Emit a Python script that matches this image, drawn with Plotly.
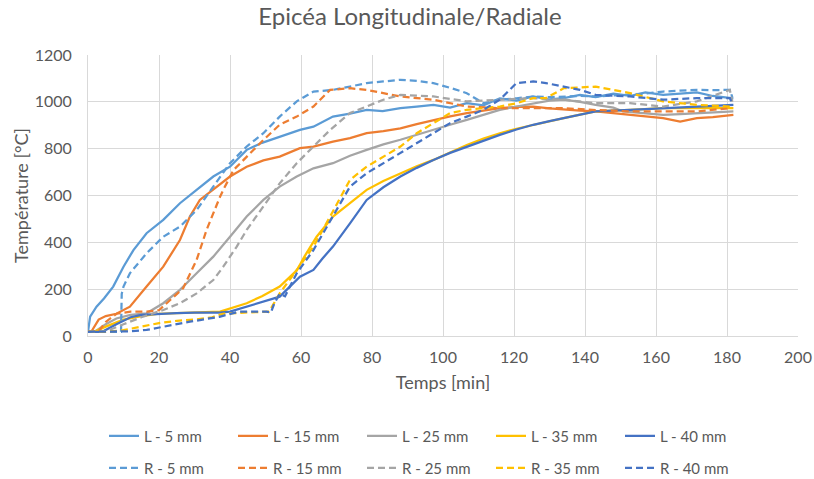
import plotly.graph_objects as go

# L = longitudinal, R = radial; time [min], temperature [°C]
t_L5 = [0, 0.6, 2.4, 4.5, 7.1, 10, 12.8, 16.5, 21.2, 25.9, 30.6, 35.3, 40, 44.7, 49, 54, 59.7, 63.5, 69, 73.8,
        78.5, 83, 88, 92.6, 97.3, 102, 106.7, 111.4, 116, 120.7, 125.4, 130, 134, 138.6, 143, 148, 152.7, 157,
        162, 166.8, 171.5, 176, 181.8]
T_L5 = [18, 83, 125, 160, 211, 296, 367, 439, 496, 567, 624, 681, 723, 795, 825, 852, 880, 894, 937, 950,
        966, 960, 973, 980, 987, 975, 994, 985, 1015, 1005, 1023, 1010, 1016, 1030, 1020, 1035, 1025, 1040,
        1030, 1035, 1040, 1025, 1015]

t_L15 = [0, 1, 3, 5, 8, 11.8, 16.5, 21.2, 25.9, 28.7, 31.5, 35.3, 40, 44.7, 49.4, 54, 59.7, 63.5, 69, 73.8,
         78.5, 83.2, 88, 92.6, 97.3, 102, 106.7, 111.4, 116, 120.7, 125.4, 130, 134, 138.6, 143, 148, 152.7,
         157, 162, 166.8, 171.5, 176, 181.8]
T_L15 = [18, 20, 70, 85, 95, 125, 211, 296, 410, 510, 581, 624, 681, 723, 750, 766, 802, 809, 830, 845,
         866, 875, 887, 905, 923, 938, 952, 962, 973, 978, 980, 972, 966, 962, 959, 952, 944,
         938, 930, 916, 930, 935, 944]

t_L25 = [0, 2, 5, 8, 12, 16.5, 21.2, 25.9, 30.6, 35.3, 40, 44.7, 49.4, 54, 58.8, 63.5, 69, 73.8, 78.5, 83.2,
         88, 92.6, 97.3, 102, 106.7, 111.4, 116, 120.7, 125.4, 130, 134, 138.6, 143, 148, 150.8, 157, 162,
         166.8, 171.5, 176, 181.8]
T_L25 = [18, 20, 50, 75, 90, 97, 140, 197, 268, 339, 424, 510, 581, 638, 681, 716, 738, 770, 795, 818,
         838, 860, 880, 902, 923, 945, 966, 980, 994, 1005, 1009, 1000, 987, 975, 959, 950, 944,
         948, 952, 955, 959]

t_L35 = [0, 2, 5, 10, 15, 20, 25, 30, 37.2, 44.7, 49, 54, 58.8, 61, 64.4, 69, 73.8, 78.5, 83.2, 88, 92.6,
         97.3, 102, 106.7, 111.4, 116, 120.7, 125.4, 130, 134, 138.6, 143, 152.7, 162, 171.5, 181.8]
T_L35 = [18, 20, 40, 70, 85, 95, 98, 100, 104, 140, 170, 211, 280, 340, 424, 510, 567, 624, 662, 695, 725,
         752, 785, 816, 843, 866, 885, 902, 918, 930, 945, 959, 966, 973, 973, 973]

t_L40 = [0, 4, 8, 12, 15, 20, 25, 30, 37, 40, 44.7, 49.4, 54, 59.7, 63.5, 66, 69, 73.8, 78.5, 83.2, 88,
         92.6, 97.3, 102, 106.7, 111.4, 116, 120.7, 125.4, 130, 134, 138.6, 143, 152.7, 162, 171.5, 181.8]
T_L40 = [18, 18, 50, 80, 90, 95, 98, 100, 100, 104, 125, 145, 168, 253, 282, 330, 382, 481, 581, 635, 681,
         718, 752, 782, 809, 835, 859, 882, 902, 918, 930, 945, 959, 966, 973, 980, 987]

t_R5 = [0, 5, 9.3, 9.5, 10, 11.8, 16.5, 21.2, 25.9, 30.6, 35.3, 40, 44.7, 49.4, 54, 58.8, 63.5, 69, 73.8,
        78.5, 83.2, 88, 92.6, 97.3, 102, 106.7, 111.4, 116, 120.7, 125.4, 130, 134, 138.6, 143, 148, 152.7,
        157, 162, 166.8, 171.5, 176, 180.8, 181.5]
T_R5 = [18, 18, 18, 180, 211, 268, 353, 424, 467, 538, 638, 738, 809, 866, 937, 1002, 1044, 1051, 1065,
        1080, 1087, 1094, 1090, 1080, 1060, 1037, 994, 1009, 1015, 1023, 1020, 1023, 1025, 1023, 1028, 1030,
        1035, 1044, 1048, 1051, 1050, 1051, 1020]

t_R15 = [0, 3, 5, 8, 12, 16.5, 20, 23, 26.8, 30.6, 33.4, 37.2, 38.1, 41, 44.7, 49.4, 54, 58.8, 63.5, 68.2,
         73.8, 78.5, 83.2, 88, 97.3, 106.7, 116, 125.4, 134, 143, 152.7, 162, 171.5, 180.8]
T_R15 = [18, 20, 60, 95, 104, 104, 110, 150, 204, 325, 453, 595, 624, 709, 766, 837, 902, 937, 980, 1051,
         1058, 1051, 1037, 1023, 1009, 980, 973, 973, 973, 965, 959, 959, 959, 973]

t_R25 = [0, 5, 10, 15, 21.2, 25.9, 30.6, 35.3, 38.1, 41.9, 44.7, 49.4, 54, 58.8, 63.5, 68.2, 73.8, 78.5,
         83.2, 88, 97.3, 106.7, 116, 125.4, 134, 143, 152.7, 162, 171.5, 176, 180.8, 181.5]
T_R25 = [18, 20, 50, 80, 111, 140, 182, 239, 296, 382, 453, 553, 652, 738, 809, 880, 952, 980,
         1009, 1030, 1023, 1002, 1009, 1016, 1009, 994, 994, 980, 1002, 1025, 1051, 1000]

t_R35 = [0, 5, 10, 15, 20, 25, 30, 35, 38, 44, 49.4, 51, 52, 54, 58.8, 63.5, 68.2, 73.8, 78.5, 83.2, 88,
         92.6, 97.3, 102, 106.7, 116, 120.7, 125.4, 129, 134, 143, 152.7, 162, 171.5, 180.8]
T_R35 = [18, 18, 25, 40, 55, 65, 70, 80, 95, 100, 104, 104, 130, 182, 282, 382, 510, 667, 723, 766, 809,
         866, 909, 952, 966, 980, 994, 1016, 1016, 1058, 1065, 1037, 1002, 987, 980]

t_R40 = [0, 8, 12, 16.5, 21, 28.7, 37, 42.6, 50.3, 51.5, 52.5, 54, 55.5, 58.8, 63.5, 69, 73.8, 78.5, 83.2,
         88, 92.6, 97.3, 102, 106.7, 111.4, 116, 120.7, 125.4, 129, 134, 138.6, 143, 152.7, 162, 171.5,
         180.8, 181.5]
T_R40 = [18, 18, 20, 26, 40, 61, 82, 104, 104, 100, 140, 180, 170, 268, 367, 510, 638, 695, 738,
         780, 823, 866, 909, 937, 966, 1009, 1080, 1087, 1080, 1065, 1051, 1030, 1023, 1009, 1016,
         1016, 990]

series = [
    ("L - 5 mm", t_L5, T_L5, "#5B9BD5", "solid", "legend"),
    ("L - 15 mm", t_L15, T_L15, "#ED7D31", "solid", "legend"),
    ("L - 25 mm", t_L25, T_L25, "#A5A5A5", "solid", "legend"),
    ("L - 35 mm", t_L35, T_L35, "#FFC000", "solid", "legend"),
    ("L - 40 mm", t_L40, T_L40, "#4472C4", "solid", "legend"),
    ("R - 5 mm", t_R5, T_R5, "#5B9BD5", "7px,4px", "legend2"),
    ("R - 15 mm", t_R15, T_R15, "#ED7D31", "7px,4px", "legend2"),
    ("R - 25 mm", t_R25, T_R25, "#A5A5A5", "7px,4px", "legend2"),
    ("R - 35 mm", t_R35, T_R35, "#FFC000", "7px,4px", "legend2"),
    ("R - 40 mm", t_R40, T_R40, "#4472C4", "7px,4px", "legend2"),
]

fig = go.Figure()
for name, x, y, col, dash, leg in series:
    fig.add_trace(go.Scatter(x=x, y=y, name=name, mode="lines", legend=leg,
                             line=dict(color=col, width=2.25, dash=dash)))

FONT = "Lato"
GREY = "#595959"
GRID = "#D9D9D9"

legend_common = dict(orientation="h", xref="container", yref="container", x=104 / 814,
                     xanchor="left", yanchor="middle", entrywidth=84, entrywidthmode="pixels",
                     font=dict(family=FONT, size=15, color=GREY), bgcolor="rgba(0,0,0,0)",
                     traceorder="normal", tracegroupgap=0, itemwidth=30)

fig.update_layout(
    width=814, height=479,
    margin=dict(l=88, r=16, t=55, b=143, autoexpand=False),
    paper_bgcolor="white", plot_bgcolor="white",
    font=dict(family=FONT, size=16, color=GREY),
    title=dict(text="Epicéa Longitudinale/Radiale", x=410 / 814, xanchor="center",
               y=1 - 17 / 479, yanchor="middle", font=dict(family=FONT, size=24, color=GREY)),
    legend=dict(legend_common, y=1 - 436 / 479),
    legend2=dict(legend_common, y=1 - 468 / 479),
    xaxis=dict(range=[0, 200], dtick=20, showgrid=True, gridcolor=GRID, gridwidth=1,
               showline=True, linecolor=GRID, linewidth=1, zeroline=False, ticks="",
               automargin=False, ticklabelstandoff=7,
               tickfont=dict(family=FONT, size=16, color=GREY),
               title=dict(text="Temps [min]", standoff=11,
                          font=dict(family=FONT, size=18, color=GREY))),
    yaxis=dict(range=[0, 1200], dtick=200, showgrid=True, gridcolor=GRID, gridwidth=1,
               showline=True, linecolor=GRID, linewidth=1, zeroline=False, ticks="",
               automargin=False, ticklabelstandoff=12,
               tickfont=dict(family=FONT, size=16, color=GREY),
               title=dict(text="Température [°C]", standoff=1,
                          font=dict(family=FONT, size=18, color=GREY))),
)

fig.write_html("out.html", config={"displayModeBar": False},
               post_script="document.body.style.margin='0';")
